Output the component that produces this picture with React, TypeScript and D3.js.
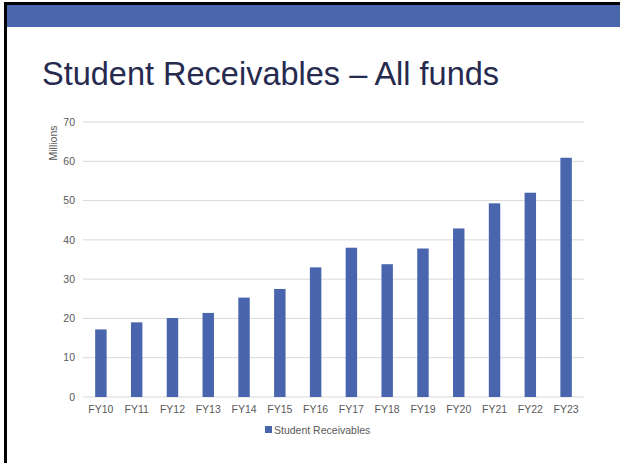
import { useEffect, useRef } from 'react';
import * as d3 from 'd3';

const categories = ["FY10", "FY11", "FY12", "FY13", "FY14", "FY15", "FY16", "FY17", "FY18", "FY19", "FY20", "FY21", "FY22", "FY23"];
const receivables = [17.2, 19.0, 20.1, 21.4, 25.3, 27.5, 33.0, 38.0, 33.8, 37.8, 42.9, 49.3, 52.0, 60.9];
const yTicks = [0, 10, 20, 30, 40, 50, 60, 70];
const seriesName = "Student Receivables";
const title = "Student Receivables \u2013 All funds";

export default function App() {
  const ref = useRef<SVGSVGElement | null>(null);

  useEffect(() => {
    if (!ref.current) return;
    const svg = d3.select(ref.current);
    svg.selectAll("*").remove();

    const width = 620;
    const height = 463;
    const margin = { top: 122, right: 36, bottom: 66, left: 83 };
    const font = "Liberation Sans, Arial, sans-serif";
    const small = "10.5px";

    svg.append("rect").attr("width", width).attr("height", height).attr("fill", "#fff");

    // slide frame
    svg.append("rect").attr("x", 4).attr("y", 2).attr("width", width - 4).attr("height", 3).attr("fill", "#000");
    svg.append("rect").attr("x", 4).attr("y", 2).attr("width", 3).attr("height", height - 2).attr("fill", "#000");
    svg.append("rect").attr("x", 7).attr("y", 5).attr("width", width - 7).attr("height", 22).attr("fill", "#4a66ac");

    svg.append("text")
      .attr("x", 42)
      .attr("y", 85)
      .attr("font-family", font)
      .attr("font-size", "32.5px")
      .attr("fill", "#262a4f")
      .text(title);

    const x = d3.scaleBand()
      .domain(categories)
      .range([margin.left, width - margin.right])
      .paddingInner(0.68)
      .paddingOuter(0.34);

    const y = d3.scaleLinear()
      .domain([0, 70])
      .range([height - margin.bottom, margin.top]);

    svg.append("g")
      .selectAll("line")
      .data(yTicks)
      .enter()
      .append("line")
      .attr("x1", margin.left)
      .attr("x2", width - margin.right)
      .attr("y1", d => y(d))
      .attr("y2", d => y(d))
      .attr("stroke", "#d9d9d9")
      .attr("stroke-width", 1);

    svg.append("g")
      .selectAll("text")
      .data(yTicks)
      .enter()
      .append("text")
      .attr("x", margin.left - 8)
      .attr("y", d => y(d))
      .attr("dy", "0.35em")
      .attr("text-anchor", "end")
      .attr("font-family", font)
      .attr("font-size", small)
      .attr("fill", "#595959")
      .text(d => d);

    svg.append("text")
      .attr("transform", `translate(57,143) rotate(-90)`)
      .attr("text-anchor", "middle")
      .attr("font-family", font)
      .attr("font-size", small)
      .attr("fill", "#595959")
      .text("Millions");

    svg.append("g")
      .selectAll("rect")
      .data(receivables)
      .enter()
      .append("rect")
      .attr("x", (_, i) => x(categories[i])!)
      .attr("y", d => y(d))
      .attr("width", x.bandwidth())
      .attr("height", d => y(0) - y(d))
      .attr("fill", "#4865ae");

    svg.append("g")
      .selectAll("text")
      .data(categories)
      .enter()
      .append("text")
      .attr("x", d => x(d)! + x.bandwidth() / 2)
      .attr("y", 413)
      .attr("text-anchor", "middle")
      .attr("font-family", font)
      .attr("font-size", small)
      .attr("fill", "#595959")
      .text(d => d);

    const legend = svg.append("g").attr("transform", "translate(265,426)");
    legend.append("rect").attr("width", 7).attr("height", 7).attr("fill", "#4865ae");
    legend.append("text")
      .attr("x", 9)
      .attr("y", 7.5)
      .attr("font-family", font)
      .attr("font-size", small)
      .attr("fill", "#595959")
      .text(seriesName);
  }, []);

  return (
    <svg
      ref={ref}
      width={620}
      height={463}
      style={{ position: "absolute", left: 0, top: 0, display: "block" }}
    />
  );
}
